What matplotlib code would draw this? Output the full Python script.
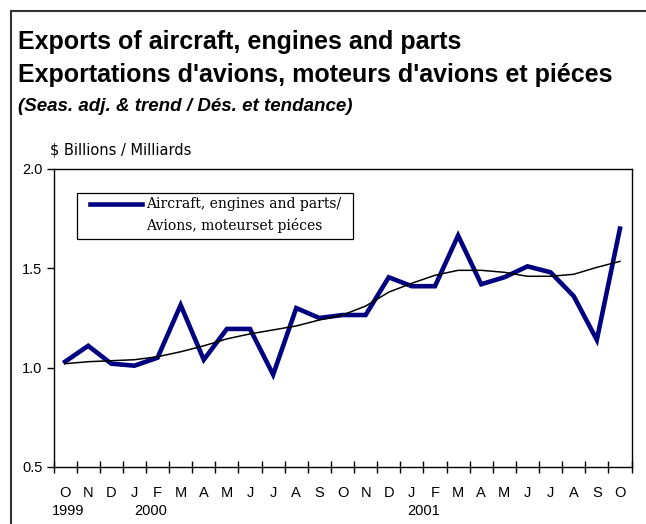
import matplotlib
matplotlib.use("Agg")
import matplotlib.pyplot as plt
from matplotlib.patches import Rectangle
from matplotlib.lines import Line2D

# mois, oct 1999 -> oct 2001
months = ["O", "N", "D", "J", "F", "M", "A", "M", "J", "J", "A", "S",
          "O", "N", "D", "J", "F", "M", "A", "M", "J", "J", "A", "S", "O"]
years = ["1999", "2000", "2001"]
year_pos = [0.15, 3.7, 15.5]

exports = [1.03, 1.11, 1.02, 1.01, 1.05, 1.315, 1.04, 1.195, 1.195, 0.965,
           1.30, 1.25, 1.265, 1.265, 1.455, 1.41, 1.41, 1.665, 1.42, 1.455,
           1.51, 1.48, 1.36, 1.14, 1.70]
trend = [1.02, 1.03, 1.035, 1.04, 1.055, 1.08, 1.11, 1.145, 1.17, 1.19,
         1.21, 1.24, 1.265, 1.31, 1.38, 1.425, 1.465, 1.49, 1.49, 1.48,
         1.46, 1.46, 1.47, 1.505, 1.535]

title1 = "Exports of aircraft, engines and parts"
title2 = "Exportations d'avions, moteurs d'avions et piéces"
title3 = "(Seas. adj. & trend / Dés. et tendance)"
ylab = "$ Billions / Milliards"
leg1 = "Aircraft, engines and parts/"
leg2 = "Avions, moteurset piéces"

plt.rcParams['font.family'] = ['Liberation Sans', 'DejaVu Sans']

fig = plt.figure(figsize=(6.46, 5.24), dpi=100)
# cadre autour de la figure
fig.patches.append(Rectangle((11/646, -0.1), 1.2, 1.1 - 11/524,
                             transform=fig.transFigure, fill=False,
                             edgecolor='#333333', linewidth=1.5))

fig.text(18/646, 1 - 42/524, title1, fontsize=18, fontweight='bold', va='center')
fig.text(18/646, 1 - 75/524, title2, fontsize=18, fontweight='bold', va='center')
fig.text(18/646, 1 - 106/524, title3, fontsize=13.5, fontweight='bold',
         fontstyle='italic', va='center')
fig.text(50/646, 1 - 150/524, ylab, fontsize=10.5, va='center', family='DejaVu Sans')

ax = fig.add_axes([53.5/646, 1 - 467/524, 578/646, 298/524])
x = list(range(len(months)))
ax.plot(x, exports, color='#000080', linewidth=3.3, solid_joinstyle='miter')
ax.plot(x, trend, color='black', linewidth=1.1)

ax.set_xlim(-0.5, len(months) - 0.5)
ax.set_ylim(0.5, 2.0)
ax.set_yticks([0.5, 1.0, 1.5, 2.0])
ax.set_yticklabels(["0.5", "1.0", "1.5", "2.0"])
ax.set_xticks([i - 0.5 for i in range(len(months) + 1)])
ax.set_xticklabels([])
ax.set_xticks(x, minor=True)
ax.set_xticklabels(months, minor=True)
ax.tick_params(axis='x', which='major', direction='inout', length=9, width=1)
ax.tick_params(axis='x', which='minor', length=0, pad=14, labelsize=10.5)
ax.tick_params(axis='y', direction='out', length=5, width=1, labelsize=10.5, pad=3)
for s in ax.spines.values():
    s.set_linewidth(1.0)

for yr, p in zip(years, year_pos):
    ax.text(p, -0.146, yr, transform=ax.get_xaxis_transform(), ha='center',
            va='center', fontsize=10.5)

# légende
ax.add_patch(Rectangle((0.0407, 0.765), 0.4773, 0.154, transform=ax.transAxes,
                       fill=True, facecolor='white', edgecolor='black', linewidth=0.9))
ax.add_line(Line2D([0.063, 0.153], [0.883, 0.883], transform=ax.transAxes,
                   color='#000080', linewidth=3.3))
ax.text(0.160, 0.883, leg1, transform=ax.transAxes, va='center',
        family='DejaVu Serif', fontsize=10)
ax.text(0.160, 0.809, leg2, transform=ax.transAxes, va='center',
        family='DejaVu Serif', fontsize=10)

fig.savefig("out.png", dpi=100)
